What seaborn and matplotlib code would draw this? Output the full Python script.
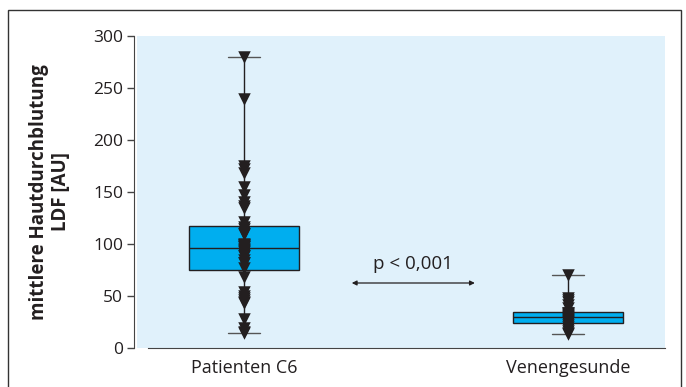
import numpy as np
import pandas as pd
import matplotlib
matplotlib.use("Agg")
import matplotlib.pyplot as plt
import seaborn as sns
from matplotlib.patches import Rectangle

# ---- data ----
categories = ["Patienten C6", "Venengesunde"]
patienten_c6 = [14, 15, 19, 28, 43, 44, 46, 48, 50, 54, 68,
                77, 82, 82, 85, 88, 88, 90, 92, 93, 94, 95, 97,
                97, 98, 99, 99, 100, 110, 110, 112, 114, 116,
                121, 135, 137, 140, 147, 155, 168, 172, 175, 239, 280]
venengesunde = [13, 14, 16, 18, 20, 22, 24.5, 25, 26, 27, 28, 29, 30,
                31, 32, 33, 34, 34, 38, 41, 44, 46, 48, 70]
y_ticks = [0, 50, 100, 150, 200, 250, 300]
y_label = "mittlere Hautdurchblutung\nLDF [AU]"
p_text = "p < 0,001"

df = pd.DataFrame({
    "group": [categories[0]] * len(patienten_c6) + [categories[1]] * len(venengesunde),
    "value": patienten_c6 + venengesunde,
})

sns.set_style("ticks")
plt.rcParams["font.family"] = ["Open Sans", "DejaVu Sans"]

dark = "#231f20"
fig = plt.figure(figsize=(6.86, 3.87), dpi=100)
ax = fig.add_axes([137 / 686, 39 / 387, 528 / 686, 312 / 387])
ax.set_facecolor("#e0f1fb")

sns.boxplot(data=df, x="group", y="value", order=categories, whis=(0, 100),
            width=0.34, color="#00aeef", linecolor=dark, linewidth=1.0,
            saturation=1, showfliers=False, ax=ax,
            whiskerprops=dict(color=dark, linewidth=1.0),
            capprops=dict(color="#555555", linewidth=1.0),
            medianprops=dict(color=dark, linewidth=1.0))
sns.stripplot(data=df, x="group", y="value", order=categories, jitter=False,
              marker="v", size=9, color=dark, linewidth=0, ax=ax, zorder=5)

# shrink caps
for line in ax.lines:
    xd = np.asarray(line.get_xdata(), dtype=float)
    yd = np.asarray(line.get_ydata(), dtype=float)
    if len(xd) == 2 and yd[0] == yd[1] and abs(xd[1] - xd[0]) > 0.05 and abs(xd[1] - xd[0]) < 0.2:
        c = xd.mean()
        line.set_xdata([c - 0.05, c + 0.05])

ax.set_xlim(-0.33, 1.30)
ax.set_ylim(0, 300)
ax.set_yticks(y_ticks)
ax.set_xlabel("")
ax.set_ylabel(y_label, fontsize=13.5, fontweight="bold", color=dark,
              labelpad=16, linespacing=1.1)
ax.tick_params(axis="y", length=5, width=1, color="#444444", labelsize=12.5, labelcolor=dark, pad=3)
ax.tick_params(axis="x", length=0, labelsize=13, labelcolor=dark, pad=8)

for s in ["top", "right"]:
    ax.spines[s].set_visible(False)
ax.spines["left"].set_color("#444444")
ax.spines["bottom"].set_color("#444444")
ax.spines["bottom"].set_bounds(-0.296, 1.30)
ax.spines["left"].set_position(("outward", 2))

ax.annotate("", xy=(0.333, 62.5), xytext=(0.713, 62.5),
            arrowprops=dict(arrowstyle="<|-|>", color=dark, lw=0.9,
                            mutation_scale=7, shrinkA=0, shrinkB=0))
ax.text(0.523, 81, p_text, ha="center", va="center", fontsize=13.5, color=dark)

fig.patches.append(Rectangle((8 / 686, -0.02), 673 / 686, 1 - 10 / 387 + 0.02,
                             transform=fig.transFigure, fill=False,
                             edgecolor="#333333", linewidth=1.0))

fig.savefig("out.png", dpi=100)
